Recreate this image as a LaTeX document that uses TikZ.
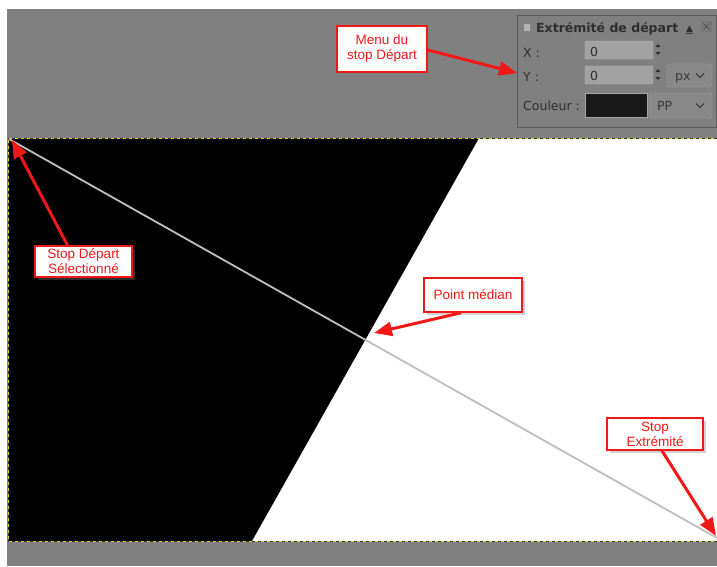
\documentclass[tikz,border=0pt]{standalone}
\usepackage{fontspec}
\setmainfont{Liberation Sans}
\newfontfamily\guifont{DejaVu Sans}
\usetikzlibrary{arrows.meta,shadows}

\definecolor{gimpgray}{HTML}{808080}
\definecolor{panelline}{HTML}{5A5A5A}
\definecolor{guitext}{HTML}{2E2E2E}
\definecolor{fieldfill}{HTML}{A2A2A2}
\definecolor{combofill}{HTML}{888888}
\definecolor{callred}{HTML}{F21818}
\definecolor{dashyellow}{HTML}{D8D020}

\tikzset{
  callout/.style={draw=callred, line width=1.6pt, fill=white, text=callred,
    align=center, inner sep=0pt, font=\fontsize{13.5}{15}\selectfont,
    drop shadow={shadow xshift=3pt, shadow yshift=-3pt, opacity=.35}},
  pointer/.style={callred, line width=3pt,
    -{Triangle[length=18pt,width=14pt]}},
  guilabel/.style={anchor=base west, inner sep=0pt, text=guitext,
    font=\guifont\fontsize{12.5}{14}\selectfont},
  field/.style={draw=fieldfill!80!white, fill=fieldfill, rounded corners=1pt},
  combo/.style={draw=gimpgray!75!white, fill=combofill, rounded corners=3pt}
}

\begin{document}
\begin{tikzpicture}[x=1pt, y=-1pt]
  \useasboundingbox (0,0) rectangle (717,566);
  \fill[gimpgray] (7,9) rectangle (717,566);

  % image canvas
  \fill[white] (8,138) rectangle (717,541);
  \fill[black] (8,138) -- (479,138) -- (252,541) -- (8,541) -- cycle;
  \begin{scope}[line width=1pt]
    \draw[black!80, dash pattern=on 3pt off 3pt] (717,138) -- (8,138) -- (8,541) -- (717,541);
    \draw[dashyellow, dash pattern=on 3pt off 3pt, dash phase=3pt] (717,138) -- (8,138) -- (8,541) -- (717,541);
  \end{scope}
  \coordinate (start) at (9,139);
  \coordinate (end) at (717,538);
  \draw[black!25, line width=1.8pt] (start) -- (end);

  % tool options panel
  \draw[panelline, line width=1pt] (517.5,15.5) rectangle (716,127);
  \draw[guitext!60, fill=gimpgray!60!white] (523,23) rectangle (530,31);
  \node[guilabel, font=\guifont\bfseries\fontsize{12.5}{14}\selectfont] (title) at (536,32) {Extrémité de départ};
  \node[guilabel, font=\guifont\fontsize{9}{10}\selectfont] at (686,31) {▲};
  \draw[guitext!80!gimpgray] (686,33) -- (693,33);
  \draw[guitext!80!gimpgray] (702,22) rectangle (711,31) (703.5,23.5) -- (709.5,29.5) (703.5,29.5) -- (709.5,23.5);

  \node[guilabel] (xlab) at (523,57) {X :};
  \draw[field] (585,41) rectangle (653,59);
  \node[guilabel] at (590,56) {0};
  \node[guilabel] (ylab) at (523,81) {Y :};
  \draw[field] (585,66) rectangle (653,84);
  \node[guilabel] at (590,80.5) {0};
  \foreach \y in {41,66} {
    \fill[guitext] (655.5,\y+6) -- (660.5,\y+6) -- (658,\y+3) -- cycle;
    \fill[guitext] (655.5,\y+11) -- (660.5,\y+11) -- (658,\y+14) -- cycle;
  }
  \draw[combo] (667,64) rectangle (712,87);
  \node[guilabel, text=guitext!85!gimpgray] at (675,80.5) {px};
  \node[guilabel] (clab) at (523,110) {Couleur :};
  \draw[fill=black!90, draw=gimpgray!70!white, line width=1pt] (585,93) rectangle (647,117);
  \draw[combo] (649,93) rectangle (712,118);
  \node[guilabel, text=guitext!85!gimpgray] at (657,110.5) {PP};
  \foreach \x/\y in {700/75.5, 700/105.5}
    \draw[guitext, line width=1pt] (\x-4,\y-2) -- (\x,\y+2) -- (\x+4,\y-2);

  % callouts
  \node[callout, minimum width=90pt, minimum height=46pt] (menu) at (382,49) {Menu du\\stop Départ};
  \node[callout, minimum width=97pt, minimum height=31pt] (stopdep) at (83.5,261.5) {Stop Départ\\Sélectionné};
  \node[callout, minimum width=98pt, minimum height=34pt] (median) at (473,295) {Point médian};
  \node[callout, minimum width=96pt, minimum height=32pt] (stopext) at (655,434) {Stop\\Extrémité};

  \coordinate (menutip) at (517,73);
  \coordinate (deptip) at (12,140);
  \coordinate (medtip) at (374,333);
  \coordinate (exttip) at (716,536);

  \draw[pointer] ([yshift=-1pt]menu.east) -- (menutip);
  \draw[pointer] ([xshift=-16pt]stopdep.north) -- (deptip);
  \draw[pointer] ([xshift=-12pt]median.south) -- (medtip);
  \draw[pointer] ([xshift=7pt]stopext.south) -- (exttip);
\end{tikzpicture}
\end{document}
